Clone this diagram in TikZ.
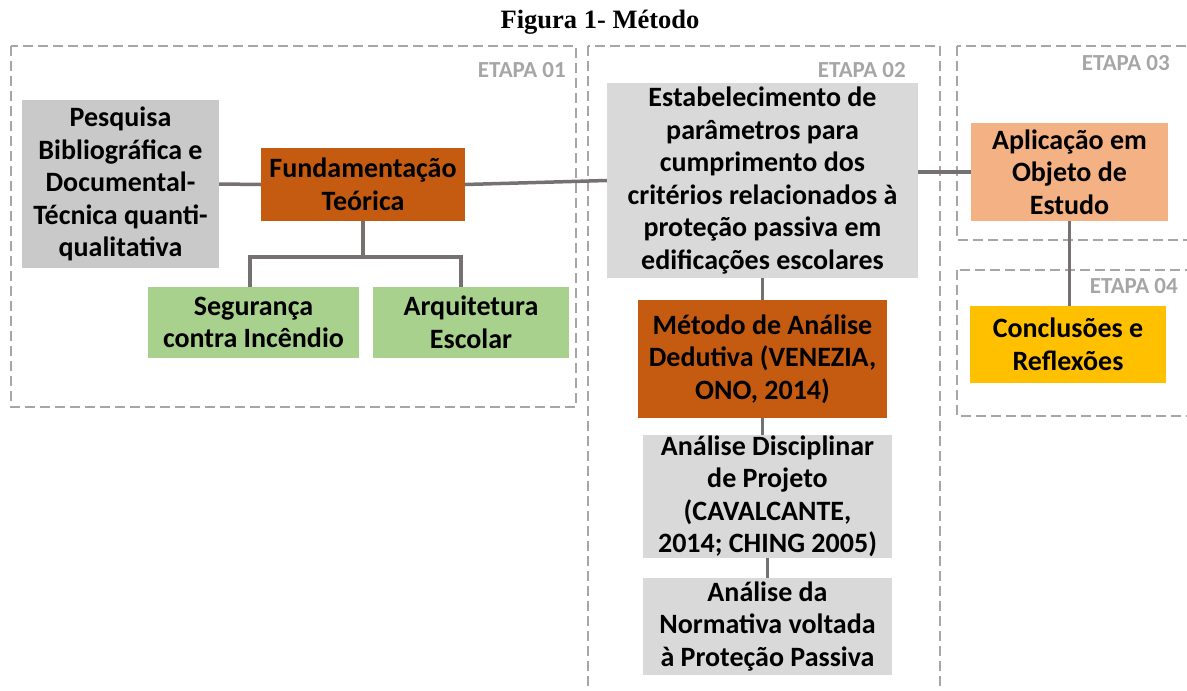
\documentclass[tikz,border=0pt]{standalone}
\usepackage{fontspec}
\setmainfont{Carlito}
\newfontfamily\titlefont{Liberation Serif}
\definecolor{cgray}{HTML}{C9C9C9}
\definecolor{clight}{HTML}{D9D9D9}
\definecolor{corange}{HTML}{C55A11}
\definecolor{cgreen}{HTML}{A9D18E}
\definecolor{csalmon}{HTML}{F4B183}
\definecolor{cgold}{HTML}{FFC000}
\definecolor{cframe}{HTML}{A6A6A6}
\definecolor{cline}{HTML}{767171}
\tikzset{
  box/.style={rectangle, draw=none, inner sep=0pt, align=center,
    font=\fontsize{28}{32.5}\selectfont\bfseries, text=black},
  frame/.style={draw=cframe, line width=2.5pt, dash pattern=on 10pt off 5pt},
  etapa/.style={font=\fontsize{23}{25}\selectfont\bfseries, text=cframe, inner sep=0pt},
  conn/.style={draw=cline, line width=3.5pt}
}
\begin{document}
\begin{tikzpicture}[x=1pt,y=-1pt]
\useasboundingbox (0,0) rectangle (1187,691);
% title
\node[font=\titlefont\fontsize{26.5}{28}\selectfont\bfseries] (title) at (600,22) {Figura 1- Método};
% frames
\draw[frame] (11,46) rectangle (576,407);
\draw[frame] (588,46) rectangle (940,700);
\draw[frame] (957,46) rectangle (1200,240);
\draw[frame] (957,270) rectangle (1200,416);
\node[etapa, anchor=east] (e1) at (566,70) {ETAPA 01};
\node[etapa, anchor=east] (e2) at (906,70) {ETAPA 02};
\node[etapa, anchor=east] (e3) at (1170,63) {ETAPA 03};
\node[etapa, anchor=east] (e4) at (1178,286) {ETAPA 04};
% boxes
\node[box, fill=cgray, minimum width=197, minimum height=168] (pesq) at (120.5,184)
  {Pesquisa\\Bibliográfica e\\Documental-\\Técnica quanti-\\qualitativa};
\node[box, fill=corange, minimum width=204, minimum height=73] (fund) at (363,184.5)
  {Fundamentação\\Teórica};
\node[box, fill=cgreen, minimum width=211, minimum height=71] (seg) at (253.5,322.5)
  {Segurança\\contra Incêndio};
\node[box, fill=cgreen, minimum width=196, minimum height=71] (arq) at (471,322.5)
  {Arquitetura\\Escolar};
\node[box, fill=clight, minimum width=311, minimum height=195] (estab) at (762.5,180.5)
  {Estabelecimento de\\parâmetros para\\cumprimento dos\\critérios relacionados à\\proteção passiva em\\edificações escolares};
\node[box, fill=csalmon, minimum width=197, minimum height=98] (aplic) at (1069.5,172)
  {Aplicação em\\Objeto de\\Estudo};
\node[box, fill=corange, minimum width=249, minimum height=118] (metodo) at (762.5,359)
  {Método de Análise\\Dedutiva (VENEZIA,\\ONO, 2014)};
\node[box, fill=cgold, minimum width=196, minimum height=77] (concl) at (1068,344.5)
  {Conclusões e\\Reflexões};
\node[box, fill=clight, minimum width=249, minimum height=123] (andisc) at (767.5,496.5)
  {Análise Disciplinar\\de Projeto\\(CAVALCANTE,\\2014; CHING 2005)};
\node[box, fill=clight, minimum width=249, minimum height=97] (annorm) at (767.5,626.5)
  {Análise da\\Normativa voltada\\à Proteção Passiva};
% connectors
\coordinate (j) at (363,257);
\coordinate (sj) at (250,257);
\coordinate (aj) at (461,257);
\draw[conn] (pesq.east) -- (fund.west);
\draw[conn] (fund.east) -- (estab.west);
\draw[conn] (fund.south) -- (j);
\draw[conn] (seg.north -| sj) -- (sj) -- (aj) -- (arq.north -| aj);
\draw[conn] (estab.east |- aplic.west) -- (aplic.west);
\draw[conn] (estab.south) -- (metodo.north);
\draw[conn] (metodo.south) -- (andisc.north -| metodo.south);
\draw[conn] (andisc.south) -- (annorm.north);
\draw[conn] (aplic.south) -- (concl.north -| aplic.south);
\end{tikzpicture}
\end{document}
